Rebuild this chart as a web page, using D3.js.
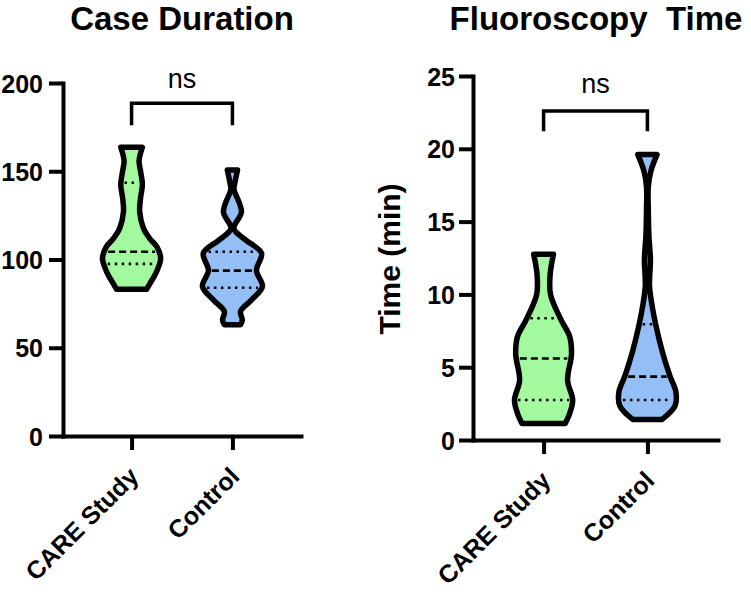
<!DOCTYPE html>
<html>
<head>
<meta charset="utf-8">
<script src="https://cdn.jsdelivr.net/npm/d3@7"></script>
<style>
  body { margin: 0; background: #fff; }
  svg { font-family: "Liberation Sans", Arial, sans-serif; }
</style>
</head>
<body>
<svg id="chart" width="751" height="595"></svg>
<script>
// groups on the x axis
const groups = ["CARE Study", "Control"];
const fills = ["#a3f99e", "#94bef6"];

// violin outlines: [value, relative half-width]
const caseCare = [[83.1, .5], [86, .6], [93, .83], [100.5, .97], [107, .85], [112, .6], [117.5, .4],
  [127, .27], [135, .3], [142.3, .36], [150, .3], [155.9, .25], [163.6, .36]];
const caseControl = [[63, .27], [65.8, .33], [70.5, .27], [77, .63], [84.7, 1.0], [93.8, .8], [103.6, .97],
  [111, .45], [117.5, .05], [127, .3], [138.5, .07], [140.3, .05], [145, .1], [150.7, .17]];
const fluoroCare = [[1.14, .72], [1.83, .87], [2.75, .97], [4.1, .8], [5.9, .93], [7.1, .87], [8.3, .57],
  [10.0, .23], [11.4, .22], [12.76, .33]];
const fluoroControl = [[1.4, .48], [2.35, .92], [3.3, .95], [4.4, .75], [6.05, .5], [7.9, .28], [9.3, .15],
  [10.6, .07], [12.4, .1], [14.0, .05], [15.8, .03], [17.4, .03], [18.5, .12], [19.6, .32]];

// quartiles: [Q1, median, Q3]
const caseQuart = [[97.5, 104.4, 143.5], [84, 93.7, 104.4]];
const fluoroQuart = [[2.75, 5.6, 8.36], [2.75, 4.35, 7.95]];

const caseTicks = [0, 50, 100, 150, 200];
const fluoroTicks = [0, 5, 10, 15, 20, 25];

const svg = d3.select("#chart");
const halfW = d3.scaleLinear().domain([0, 1]).range([0, 30]);

function panel(opt) {
  const g = svg.append("g");
  const y = d3.scaleLinear().domain(opt.domain).range([opt.bottom, opt.top]);
  const x = d3.scalePoint().domain(groups).range([opt.left, opt.right]).padding(0.68);

  // violins
  opt.violins.forEach((prof, i) => {
    const cx = x(groups[i]);
    const area = d3.area()
      .y(d => y(d[0]))
      .x0(d => cx - halfW(d[1]))
      .x1(d => cx + halfW(d[1]))
      .curve(d3.curveCatmullRom);
    g.append("path")
      .attr("d", area(prof))
      .attr("fill", fills[i])
      .attr("stroke", "#000")
      .attr("stroke-width", 5.5)
      .attr("stroke-linejoin", "round");

    const w = d3.scaleLinear().domain(prof.map(d => d[0])).range(prof.map(d => halfW(d[1])));
    opt.quart[i].forEach((q, k) => {
      const hw = Math.max(w(q) - 3.5, 2);
      g.append("line")
        .attr("x1", cx - hw).attr("x2", cx + hw)
        .attr("y1", y(q)).attr("y2", y(q))
        .attr("stroke", "#000")
        .attr("stroke-width", 2.6)
        .attr("stroke-dasharray", k == 1 ? "7,4" : "2.5,4.5");
    });
  });

  // y axis
  const ya = g.append("g")
    .attr("transform", `translate(${opt.left},0)`)
    .call(d3.axisLeft(y).tickValues(opt.ticks).tickSize(14).tickSizeOuter(0).tickPadding(opt.pad));
  ya.select(".domain").attr("stroke-width", 4).attr("stroke-linecap", "square");
  ya.selectAll(".tick line").attr("stroke-width", 4);
  ya.selectAll(".tick text")
    .style("font-size", "25px").style("font-weight", "bold").attr("fill", "#000")
    .attr("dy", "0.36em");

  // x axis
  const xa = g.append("g")
    .attr("transform", `translate(0,${opt.bottom})`)
    .call(d3.axisBottom(x).tickSize(14).tickSizeOuter(0));
  xa.select(".domain").attr("stroke-width", 4).attr("stroke-linecap", "square");
  xa.selectAll(".tick line").attr("stroke-width", 4);
  xa.selectAll(".tick text")
    .style("font-size", "25px").style("font-weight", "bold").attr("fill", "#000")
    .attr("y", 0).attr("dy", 0)
    .attr("text-anchor", "end")
    .attr("transform", "translate(8,42) rotate(-45)");

  // significance bracket
  const x1 = x(groups[0]), x2 = x(groups[1]);
  g.append("path")
    .attr("d", `M${x1},${y(opt.bracket[1])}V${y(opt.bracket[0])}H${x2}V${y(opt.bracket[1])}`)
    .attr("fill", "none").attr("stroke", "#000").attr("stroke-width", 3.5);
  g.append("text")
    .attr("x", (x1 + x2) / 2).attr("y", opt.nsY)
    .attr("text-anchor", "middle")
    .style("font-size", "27px")
    .text("ns");

  // title
  g.append("text")
    .attr("x", opt.titleX).attr("y", 30)
    .attr("text-anchor", "middle")
    .style("font-size", "33px").style("font-weight", "bold")
    .style("white-space", "pre")
    .text(opt.title);
  return g;
}

panel({
  title: "Case Duration", titleX: 182,
  domain: [0, 200], ticks: caseTicks, top: 83, bottom: 436, left: 63, right: 301, pad: 6,
  violins: [caseCare, caseControl], quart: caseQuart, bracket: [188.5, 176], nsY: 88
});

const right = panel({
  title: "Fluoroscopy  Time", titleX: 596,
  domain: [0, 25], ticks: fluoroTicks, top: 76, bottom: 440, left: 473, right: 718, pad: 4,
  violins: [fluoroCare, fluoroControl], quart: fluoroQuart, bracket: [22.6, 21.2], nsY: 93
});

right.append("text")
  .attr("transform", "translate(400,259) rotate(-90)")
  .attr("text-anchor", "middle")
  .style("font-size", "30px").style("font-weight", "bold")
  .text("Time (min)");
</script>
</body>
</html>
